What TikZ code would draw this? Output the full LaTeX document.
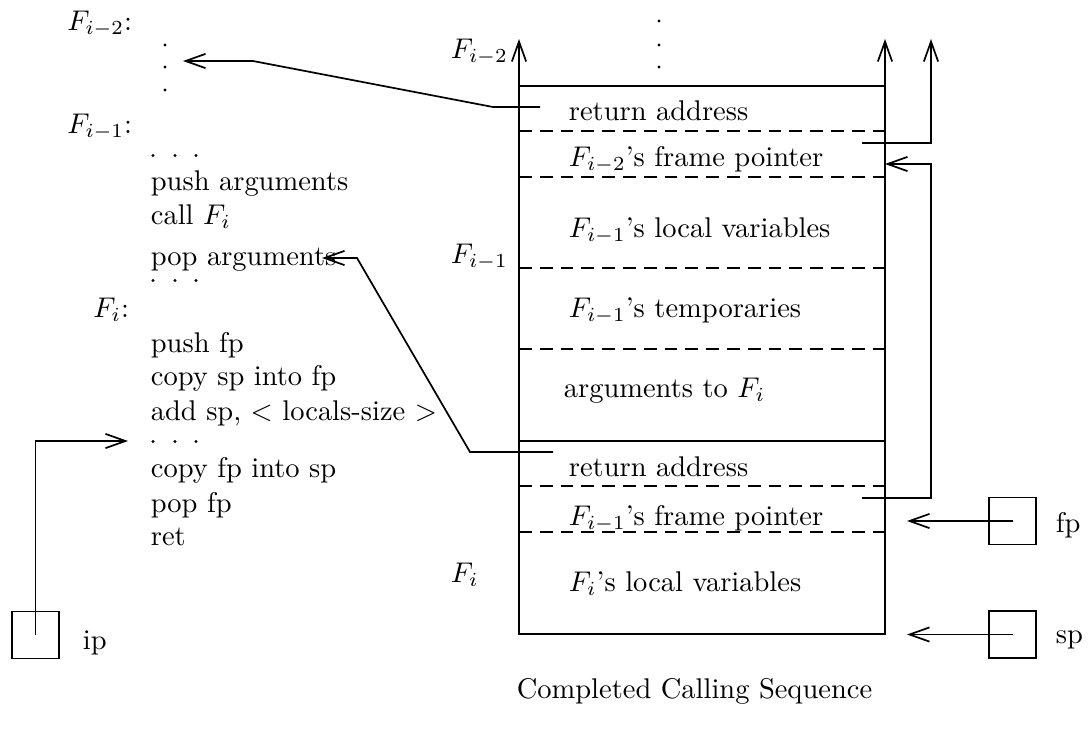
\documentclass[tikz,border=0pt]{standalone}
\usetikzlibrary{arrows.meta}

\tikzset{
  txt/.style={inner sep=0pt, anchor=base west},
  lab/.style={inner sep=0pt, anchor=base east},
  reg/.style={draw, minimum size=16.5pt, inner sep=0pt},
  slot/.style={dash pattern=on 4.5pt off 2.8pt},
}

\begin{document}
\begin{tikzpicture}[x=0.351pt, y=-0.351pt, line width=0.6pt,
    >={Straight Barb[length=7pt,width=5pt]}]
    \useasboundingbox (0,0) rectangle (1090,742);

    % 调用方与被调用方的代码
    \node[lab] (fm2) at (133,30) {$F_{i-2}$:};
    \foreach \y in {45,67,90} {
        \fill (165,\y) circle (0.55pt);
    }
    \node[lab] (fm1) at (133,133) {$F_{i-1}$:};
    \node[txt] (c1) at (150,190) {push arguments};
    \node[txt] (c2) at (150,224) {call $F_i$};
    \node[txt] (c3) at (150,265) {pop arguments};
    \node[lab] (fi) at (130,317) {$F_i$:};
    \node[txt] (c4) at (150,352) {push fp};
    \node[txt] (c5) at (150,385) {copy sp into fp};
    \node[txt] (c6) at (150,420) {add sp, $<$ locals-size $>$};
    \node[txt] (c7) at (150,477) {copy fp into sp};
    \node[txt] (c8) at (150,512) {pop fp};
    \node[txt] (c9) at (150,545) {ret};
    % 省略号
    \foreach \y in {155.5,280.5,441.5} {
        \foreach \x in {153,175,196} {
            \fill (\x,\y) circle (0.55pt);
        }
    }

    % 栈
    \coordinate (stl) at (519,86);
    \coordinate (str) at (885,86);
    \coordinate (sbr) at (885,634);
    \draw (stl) rectangle (sbr);
    \draw (519,441) -- (885,441);
    \foreach \y in {131,177,268,349,486,532} {
        \draw[slot] (519,\y) -- (885,\y);
    }
    \foreach \y in {21,45,67} {
        \fill (659,\y) circle (0.55pt);
    }
    \coordinate (stl2) at (519,39);
    \coordinate (str2) at (885,39);
    \draw[->] (stl) -- (stl2);
    \draw[->] (str) -- (str2);

    \node[txt] (s1) at (568,120) {return address};
    \node[txt] (s2) at (568,166) {$F_{i-2}$'s frame pointer};
    \node[txt] (s3) at (568,237) {$F_{i-1}$'s local variables};
    \node[txt] (s4) at (568,317) {$F_{i-1}$'s temporaries};
    \node[txt] (s5) at (563,397) {arguments to $F_i$};
    \node[txt] (s6) at (568,476) {return address};
    \node[txt] (s7) at (568,525) {$F_{i-1}$'s frame pointer};
    \node[txt] (s8) at (568,591) {$F_i$'s local variables};

    \node[txt] (f2) at (450,58) {$F_{i-2}$};
    \node[txt] (f1) at (450,263) {$F_{i-1}$};
    \node[txt] (f0) at (450,582) {$F_i$};

    % 寄存器
    \node[reg] (ipbox) at (35.5,635) {};
    \node[txt] (ip) at (82,649) {ip};
    \node[reg] (fpbox) at (1012.5,521) {};
    \node[txt] (fp) at (1055,532) {fp};
    \node[reg] (spbox) at (1012.5,634.5) {};
    \node[txt] (sp) at (1055,643) {sp};

    % 指针
    \coordinate (ipin) at (128,441);
    \draw[->] (ipbox.center) |- (ipin);
    \coordinate (fpin) at (907,521);
    \draw[->] (fpbox.center) -- (fpin);
    \coordinate (spin) at (907,634.5);
    \draw[->] (spbox.center) -- (spin);

    \coordinate (ra1) at (540,107);
    \coordinate (ra1b) at (493,107);
    \coordinate (ra1c) at (253,61);
    \coordinate (ra1d) at (183,61);
    \draw[->] (ra1) -- (ra1b) -- (ra1c) -- (ra1d);

    \coordinate (ra2) at (553,452);
    \coordinate (ra2b) at (470,452);
    \coordinate (ra2c) at (357,258);
    \coordinate (ra2d) at (322,258);
    \draw[->] (ra2) -- (ra2b) -- (ra2c) -- (ra2d);

    \coordinate (fp1) at (862,143);
    \coordinate (fp1b) at (931,143);
    \coordinate (fp1c) at (931,39);
    \draw[->] (fp1) -- (fp1b) -- (fp1c);

    \coordinate (fp2) at (862,498);
    \coordinate (fp2b) at (931,498);
    \coordinate (fp2c) at (931,164);
    \coordinate (fp2d) at (885,164);
    \draw[->] (fp2) -- (fp2b) -- (fp2c) -- (fp2d);

    % 标题
    \node[inner sep=0pt, anchor=base] (title) at (694.5,698) {Completed Calling Sequence};
\end{tikzpicture}
\end{document}
